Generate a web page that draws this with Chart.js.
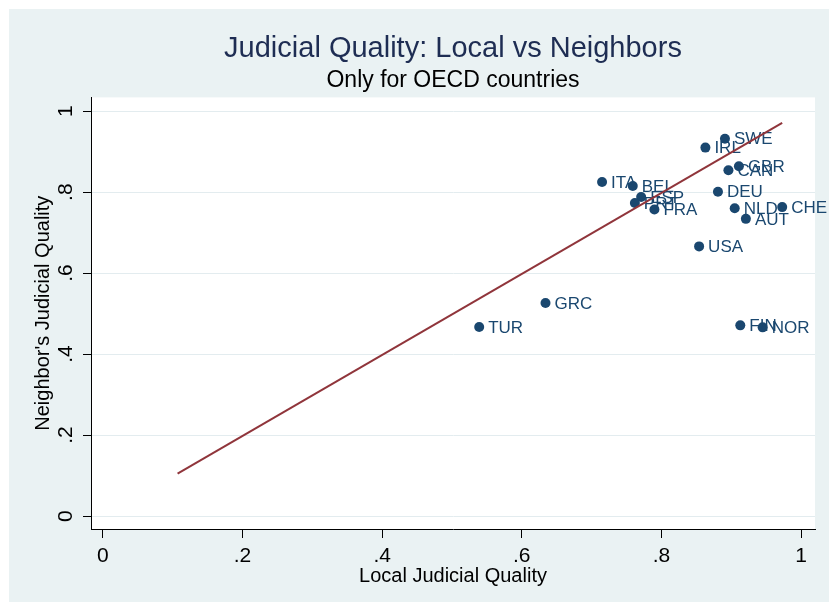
<!DOCTYPE html>
<html>
<head>
<meta charset="utf-8">
<script src="https://cdn.jsdelivr.net/npm/chart.js@4.4.0/dist/chart.umd.min.js"></script>
<style>
  html, body { margin: 0; padding: 0; background: #fff; }
  #wrap { width: 829px; height: 602px; }
</style>
</head>
<body>
<div id="wrap"><canvas id="c" width="829" height="602"></canvas></div>
<script>
// OECD countries: local judicial quality vs. neighbors' judicial quality
const countries = ['SWE','IRL','GBR','CAN','ITA','BEL','ESP','PRT','FRA','DEU','NLD','CHE','AUT','USA','GRC','TUR','FIN','NOR'];
const localQuality = [0.891,0.863,0.911,0.896,0.715,0.759,0.771,0.762,0.790,0.881,0.905,0.973,0.921,0.854,0.634,0.539,0.913,0.945];
const neighborQuality = [0.932,0.910,0.864,0.854,0.825,0.815,0.788,0.773,0.757,0.801,0.760,0.763,0.734,0.666,0.526,0.467,0.471,0.466];

// reference line endpoints
const fitX = [0.107, 0.973];
const fitY = [0.105, 0.971];

// axis ticks
const tickValues = [0, 0.2, 0.4, 0.6, 0.8, 1];
const tickText = ['0', '.2', '.4', '.6', '.8', '1'];

const FONT = "'Liberation Sans', Arial, Helvetica, sans-serif";
const NAVY = '#1a476f';
const MAROON = '#90353b';
const BG = '#eaf2f3';
const GRID = '#e3ecef';

const backgroundPlugin = {
  id: 'panelBackground',
  beforeDraw(chart) {
    const { ctx, chartArea: a } = chart;
    ctx.save();
    ctx.fillStyle = '#ffffff';
    ctx.fillRect(0, 0, chart.width, chart.height);
    ctx.fillStyle = BG;
    ctx.fillRect(9, 9, chart.width - 9, chart.height - 9);
    ctx.fillStyle = '#ffffff';
    ctx.fillRect(a.left, a.top, a.right - a.left, a.bottom - a.top);
    ctx.restore();
  }
};

const countryLabels = {
  id: 'countryLabels',
  afterDatasetDraw(chart, args) {
    if (args.index !== 1) return;
    const { ctx } = chart;
    const meta = chart.getDatasetMeta(1);
    ctx.save();
    ctx.font = '17px ' + FONT;
    ctx.fillStyle = NAVY;
    ctx.textAlign = 'left';
    ctx.textBaseline = 'middle';
    meta.data.forEach((pt, i) => {
      ctx.fillText(countries[i], pt.x + 9, pt.y + 1);
    });
    ctx.restore();
  }
};

function setTicks(axis) {
  axis.ticks = tickValues.map(v => ({ value: v }));
}

new Chart(document.getElementById('c'), {
  data: {
    datasets: [
      {
        type: 'line',
        data: fitX.map((x, i) => ({ x, y: fitY[i] })),
        borderColor: MAROON,
        borderWidth: 2,
        pointRadius: 0,
        fill: false
      },
      {
        type: 'scatter',
        data: localQuality.map((x, i) => ({ x, y: neighborQuality[i] })),
        backgroundColor: NAVY,
        borderColor: NAVY,
        borderWidth: 0,
        pointRadius: 5
      }
    ]
  },
  options: {
    responsive: false,
    devicePixelRatio: 1,
    animation: false,
    layout: { padding: { left: 27, right: 14, top: 0, bottom: 0 } },
    plugins: {
      legend: { display: false },
      tooltip: { enabled: false },
      title: {
        display: true,
        fullSize: false,
        text: 'Judicial Quality: Local vs Neighbors',
        color: '#1e2d53',
        font: { family: FONT, size: 29, weight: 'normal' },
        padding: { top: 32, bottom: 0 }
      },
      subtitle: {
        display: true,
        fullSize: false,
        text: 'Only for OECD countries',
        color: '#000',
        font: { family: FONT, size: 23, weight: 'normal' },
        padding: { top: 0, bottom: 3 }
      }
    },
    scales: {
      x: {
        type: 'linear',
        position: 'bottom',
        min: -0.017,
        max: 1.02,
        afterBuildTicks: setTicks,
        afterFit(axis) { axis.height = 73; },
        ticks: {
          color: '#000',
          font: { family: FONT, size: 21 },
          padding: 6,
          maxRotation: 0,
          callback: (v, i) => tickText[i]
        },
        grid: { drawOnChartArea: false, drawTicks: true, tickLength: 9, tickColor: '#000', tickWidth: 1 },
        border: { color: '#000', width: 1 },
        title: {
          display: true,
          text: 'Local Judicial Quality',
          color: '#000',
          font: { family: FONT, size: 20 },
          padding: { top: 0, bottom: 14 }
        }
      },
      y: {
        type: 'linear',
        min: -0.032,
        max: 1.034,
        afterBuildTicks: setTicks,
        afterFit(axis) { axis.width = 64; },
        ticks: {
          color: '#000',
          font: { family: FONT, size: 21 },
          padding: 8,
          minRotation: 90,
          maxRotation: 90,
          crossAlign: 'center',
          callback: (v, i) => tickText[i]
        },
        grid: { color: GRID, lineWidth: 1, tickLength: 8, tickColor: '#000', tickWidth: 1 },
        border: { color: '#000', width: 1 },
        title: {
          display: true,
          text: "Neighbor's Judicial Quality",
          color: '#000',
          font: { family: FONT, size: 20 },
          padding: { top: 4, bottom: 0 }
        }
      }
    }
  },
  plugins: [backgroundPlugin, countryLabels]
});
</script>
</body>
</html>
